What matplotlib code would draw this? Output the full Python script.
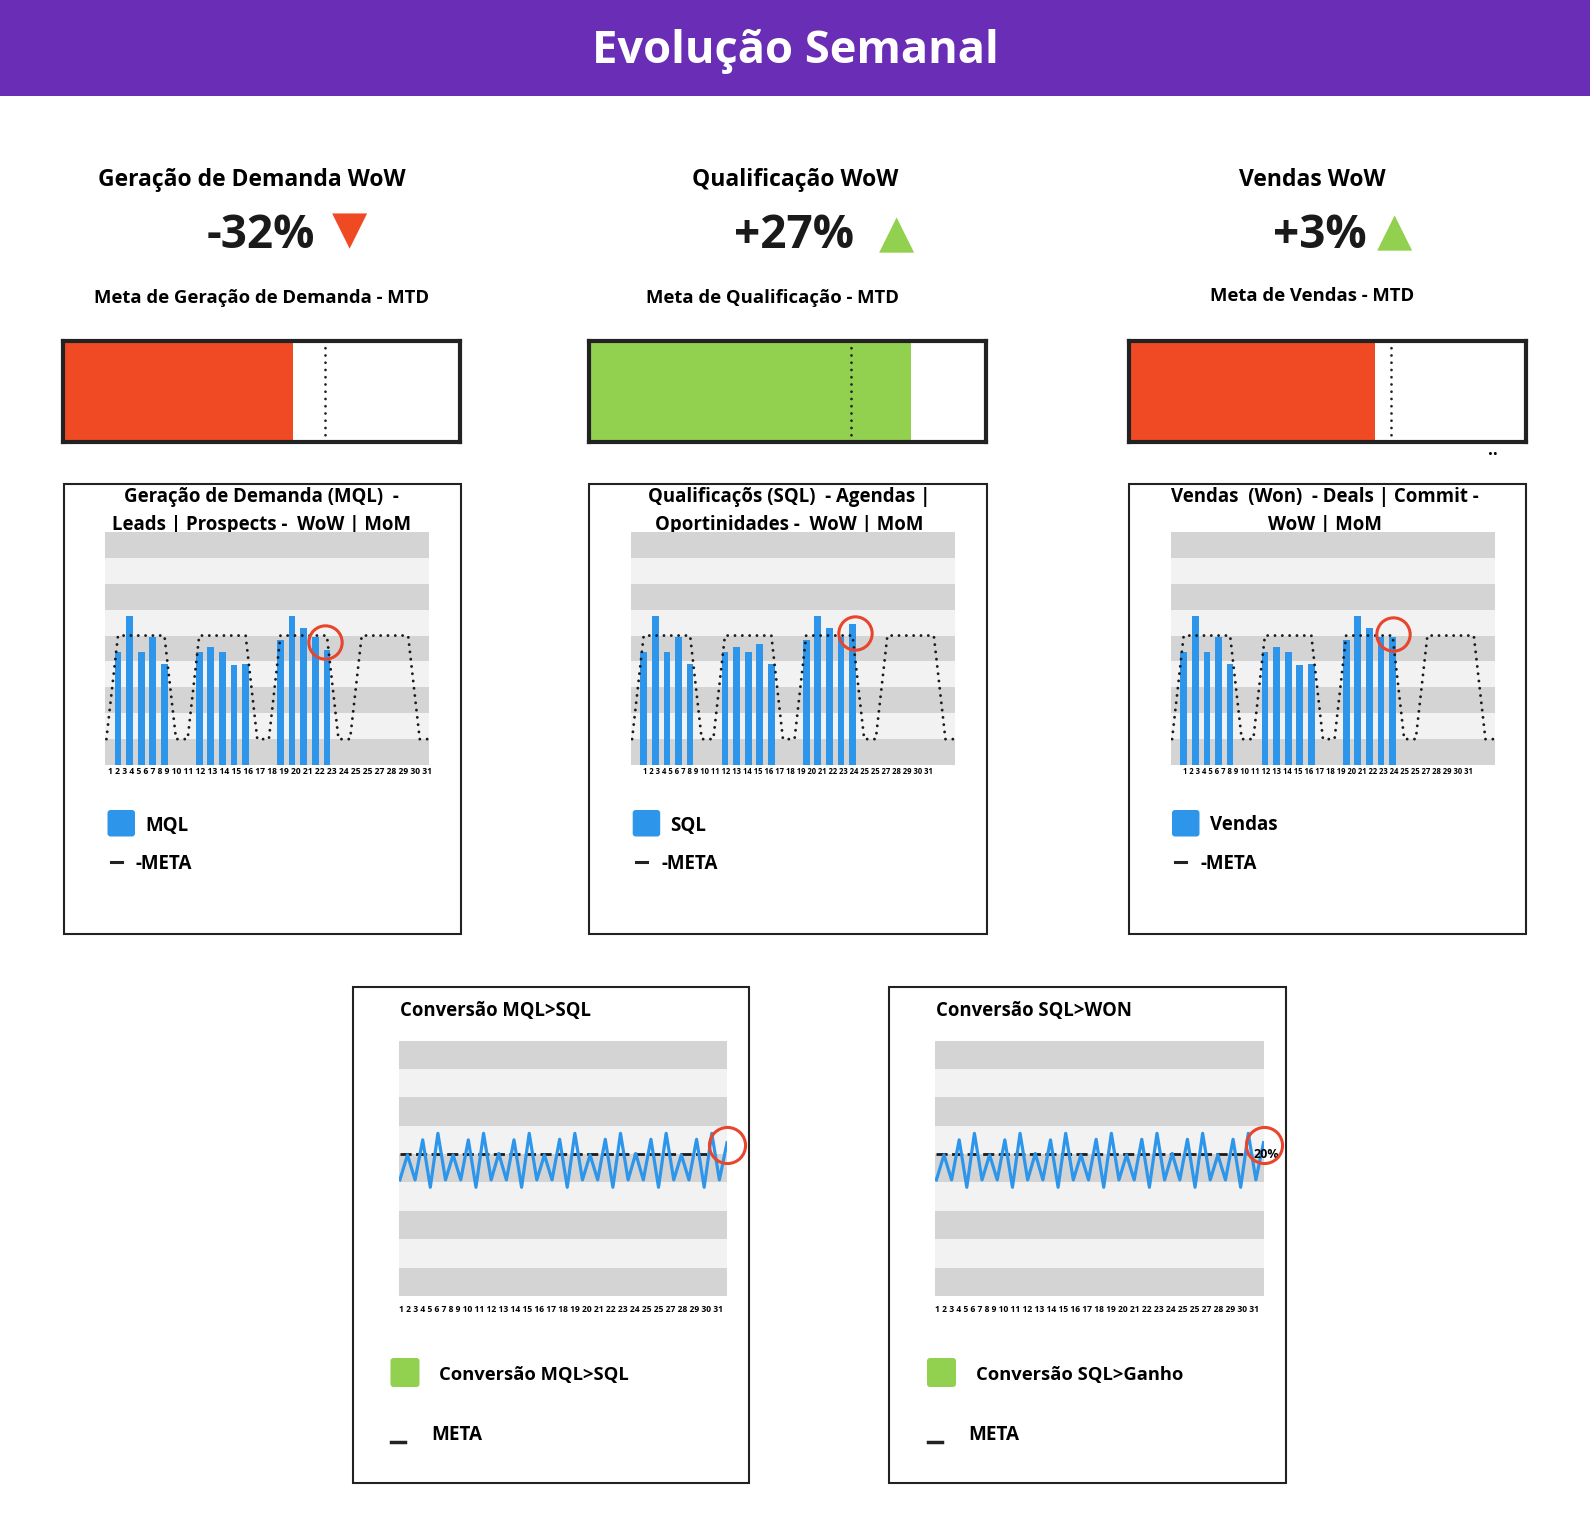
import matplotlib
matplotlib.use('Agg')
import matplotlib.pyplot as plt
from matplotlib.patches import Rectangle, FancyBboxPatch

plt.rcParams['font.family'] = ['Open Sans', 'DejaVu Sans']
plt.rcParams['font.weight'] = 'bold'

W, H = 1590, 1536

# ---- dados ----
titulo = 'Evolução Semanal'
kpi_titulos = ['Geração de Demanda WoW', 'Qualificação WoW', 'Vendas WoW']
kpi_valores = ['-32%', '+27%', '+3%']
kpi_sinais = ['▼', '▲', '▲']
meta_titulos = ['Meta de Geração de Demanda - MTD', 'Meta de Qualificação - MTD', 'Meta de Vendas - MTD']
progresso = [58, 81, 62]
alvo_mtd = [66, 66, 66]

graf_titulos = ['Geração de Demanda (MQL)  -\nLeads | Prospects -  WoW | MoM',
                'Qualificaçõs (SQL)  - Agendas |\nOportinidades -  WoW | MoM',
                'Vendas  (Won)  - Deals | Commit -\nWoW | MoM']
legendas = ['MQL', 'SQL', 'Vendas']

dias_bar = [1, 2, 3, 4, 5, 8, 9, 10, 11, 12, 15, 16, 17, 18, 19]
mql = [4.36, 5.77, 4.36, 4.96, 3.91, 4.36, 4.55, 4.36, 3.88, 3.91, 4.83, 5.77, 5.28, 4.96, 4.46]
sql = [4.36, 5.77, 4.36, 4.96, 3.91, 4.36, 4.55, 4.36, 4.68, 3.91, 4.83, 5.77, 5.28, 4.96, 5.45]
vendas = [4.36, 5.77, 4.36, 4.96, 3.91, 4.36, 4.55, 4.36, 3.88, 3.91, 4.83, 5.77, 5.28, 4.96, 4.96]

dias_meta = list(range(29))
meta_diaria = [1, 5, 5, 5, 5, 5, 1, 1, 5, 5, 5, 5, 5, 1, 1,
               5, 5, 5, 5, 5, 1, 1, 5, 5, 5, 5, 5, 1, 1]

destaque_x = [18.8, 19.17, 19.06]
destaque_y = [4.75, 5.08, 5.06]

rotulos_dias = [str(d) for d in range(1, 32)]
rotulos_dias[25] = '25'  # assim está na imagem

conv_titulos = ['Conversão MQL>SQL', 'Conversão SQL>WON']
conv_legendas = ['Conversão MQL>SQL', 'Conversão SQL>Ganho']
conv_mql_sql = [4.09, 4.97, 4.09, 5.50, 3.83, 5.73, 4.09, 4.97, 4.09, 5.50, 3.83, 5.73,
                4.09, 5.02, 4.09, 5.50, 3.83, 5.73, 4.09, 4.97, 4.09, 5.52, 3.83, 5.73,
                4.09, 4.97, 4.09, 5.52, 3.83, 5.73, 4.09, 5.02, 4.09, 5.52, 3.83, 5.73,
                4.09, 4.97, 4.09, 5.52, 3.83, 5.73, 4.09, 5.40]
conv_sql_won = list(conv_mql_sql)
conv_meta = 5.0
conv_rotulo_fim = ['', '20%']

# ---- cores ----
roxo = '#6A2DB5'
azul = '#2D96EB'
vermelho = '#F04A25'
verde = '#92D050'
circulo = '#E8452C'
escuro = '#D4D4D4'
claro = '#F2F2F2'
borda = '#222222'

fig = plt.figure(figsize=(W / 100, H / 100), dpi=100)
bg = fig.add_axes([0, 0, 1, 1], zorder=0)
bg.set_xlim(0, W)
bg.set_ylim(H, 0)
bg.axis('off')


def caixa(l, t, w, h, z=2):
    return fig.add_axes([l / W, 1 - (t + h) / H, w / W, h / H], zorder=z)


def faixas(ax):
    for i in range(9):
        ax.axhspan(i, i + 1, color=escuro if i % 2 == 0 else claro, lw=0, zorder=0)
    ax.set_ylim(0, 9)
    for s in ax.spines.values():
        s.set_visible(False)
    ax.set_xticks([])
    ax.set_yticks([])


# cabeçalho
bg.add_patch(Rectangle((0, 0), W, 95.5, color=roxo, lw=0))
bg.text(W / 2, 52, titulo, color='white', fontsize=32.6, ha='center', va='center')

# KPIs
kpi_cx = [251.5, 795, 1312]
num_cx = [261, 794, 1320]
sinal_x = [349, 896.5, 1394]
sinal_y = [231, 235, 233]
sinal_cor = [vermelho, verde, verde]
meta_cx = [261.5, 772.5, 1312]
meta_cy = [298, 298, 296]
for i in range(3):
    bg.text(kpi_cx[i], 179.5, kpi_titulos[i], fontsize=16.5, ha='center', va='center')
    bg.text(num_cx[i], 235, kpi_valores[i], fontsize=33, ha='center', va='center', color='#1a1a1a')
    bg.text(sinal_x[i], sinal_y[i], kpi_sinais[i], fontsize=33, ha='center', va='center',
            color=sinal_cor[i], family='DejaVu Sans')
    bg.text(meta_cx[i], meta_cy[i], meta_titulos[i], fontsize=13.3, ha='center', va='center')

# barras de progresso
prog_l = [62.9, 589.1, 1128.6]
prog_cor = [vermelho, verde, vermelho]
for i in range(3):
    ax = caixa(prog_l[i], 340.7, 397, 101)
    ax.barh(0, progresso[i], height=1, color=prog_cor[i], align='center')
    ax.axvline(alvo_mtd[i], color=borda, ls=(0, (0.01, 2.6)), lw=2, dash_capstyle='round')
    ax.set_xlim(0, 100)
    ax.set_ylim(-0.5, 0.5)
    ax.set_xticks([])
    ax.set_yticks([])
    for s in ax.spines.values():
        s.set_linewidth(3)
        s.set_color(borda)
bg.text(1492.6, 450, '..', fontsize=12, ha='center', va='center')

# paineis de cima
painel_l = [63.9, 589.1, 1128.6]
graf_l = [105, 630.7, 1170.7]
titulo_cx = [261.5, 789.5, 1325]
rot_cx = [270, 788.4, 1328.3]
rot_fs = [6.15, 5.5, 5.5]
leg_l = [107.5, 632.7, 1172]
series = [mql, sql, vendas]
for i in range(3):
    bg.add_patch(Rectangle((painel_l[i], 483.7), 397.5, 450, fill=False, ec=borda, lw=1.5))
    bg.text(titulo_cx[i], 511, graf_titulos[i], fontsize=13.45, ha='center', va='center',
            linespacing=1.47, multialignment='center')
    ax = caixa(graf_l[i], 532, 324, 233)
    faixas(ax)
    ax.bar(dias_bar, series[i], width=0.58, color=azul, zorder=2)
    ax.plot(dias_meta, meta_diaria, color='#1a1a1a', lw=2.1, ls=(0, (0.01, 2.5)),
            dash_capstyle='round', zorder=3)
    ax.plot(destaque_x[i], destaque_y[i], 'o', ms=24, mfc='none', mec=circulo, mew=2.2,
            zorder=4, clip_on=False)
    ax.set_xlim(-0.12, 27.8)
    bg.text(rot_cx[i], 771, ' '.join(rotulos_dias), fontsize=rot_fs[i], ha='center', va='center')
    # legenda
    bg.add_patch(FancyBboxPatch((leg_l[i] + 3, 813), 21.5, 20.5,
                                boxstyle='round,pad=3', fc=azul, ec='none'))
    bg.text(leg_l[i] + 37.5, 825.5, legendas[i], fontsize=13.5, ha='left', va='center')
    bg.plot([leg_l[i] + 3, leg_l[i] + 14], [862, 862], color=borda, lw=2.2)
    bg.text(leg_l[i] + 28.5, 864, '-META', fontsize=13.5, ha='left', va='center')

# paineis de baixo
conv_painel_l = [352.9, 889.3]
conv_graf_l = [398.5, 935]
conv_rot_cx = [560.7, 1097]
conv_series = [conv_mql_sql, conv_sql_won]
for i in range(2):
    bg.add_patch(Rectangle((conv_painel_l[i], 986.6), 396.4, 496, fill=False, ec=borda, lw=1.5))
    bg.text(conv_graf_l[i] + 1, 1011, conv_titulos[i], fontsize=13.35, ha='left', va='center')
    ax = caixa(conv_graf_l[i], 1040.5, 328.5, 255.5)
    faixas(ax)
    x = list(range(len(conv_series[i])))
    ax.hlines(conv_meta, x[0], x[-3], color='#1a1a1a', lw=2, linestyles=[(0, (4, 1.6))], zorder=2)
    ax.plot(x, conv_series[i], color=azul, lw=2.3, zorder=3)
    if conv_rotulo_fim[i]:
        ax.text(x[-1] + 0.4, conv_meta, conv_rotulo_fim[i], fontsize=9, ha='center', va='center',
                zorder=4, clip_on=False)
    ax.plot(x[-1], 5.32, 'o', ms=26, mfc='none', mec=circulo, mew=2.2, zorder=5, clip_on=False)
    ax.set_xlim(-0.18, 43)
    bg.text(conv_rot_cx[i], 1310, ' '.join(rotulos_dias), fontsize=6.15, ha='center', va='center')
    # legenda
    bg.add_patch(FancyBboxPatch((conv_graf_l[i] - 5, 1361), 23, 23,
                                boxstyle='round,pad=3', fc=verde, ec='none'))
    bg.text(conv_graf_l[i] + 40.5, 1375, conv_legendas[i], fontsize=13.2, ha='left', va='center')
    bg.plot([conv_graf_l[i] - 7.5, conv_graf_l[i] + 6.5], [1442, 1442], color=borda, lw=2.5)
    bg.text(conv_graf_l[i] + 33, 1435, 'META', fontsize=13.6, ha='left', va='center')

fig.savefig('out.png', dpi=100, facecolor='white')
